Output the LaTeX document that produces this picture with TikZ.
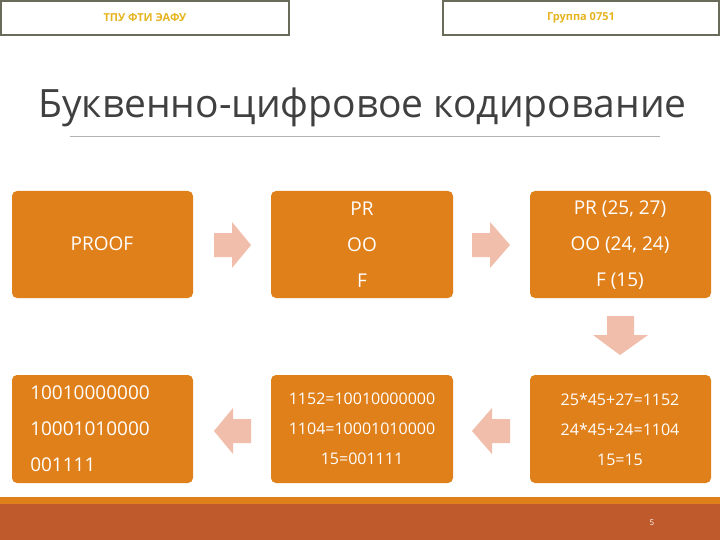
\documentclass[tikz,border=0pt]{standalone}
\usepackage{fontspec}
\setmainfont{Open Sans}
\definecolor{orng}{RGB}{224,128,26}
\definecolor{pinkar}{RGB}{240,190,170}
\definecolor{barc}{RGB}{190,90,44}
\definecolor{hdr}{RGB}{230,180,30}
\definecolor{frm}{RGB}{107,107,91}
\begin{document}
\begin{tikzpicture}[x=1pt,y=-1pt,
 box/.style={fill=orng,rounded corners=5pt,draw=none},
 txt/.style={text=white,font=\fontsize{19}{36}\selectfont,align=center},
 txts/.style={text=white,font=\fontsize{16}{30}\selectfont,align=center},
 ar/.style={fill=pinkar,draw=none},
 hbox/.style={draw=frm,line width=1.5pt,fill=white}]
\useasboundingbox (0,0) rectangle (720,540);
\fill[white] (0,0) rectangle (720,540);
\draw[hbox] (1,1) rectangle (289,35);
\node[text=hdr,font=\bfseries\fontsize{11}{13}\selectfont] (h1) at (145,18) {ТПУ ФТИ ЭАФУ};
\draw[hbox] (443,1) rectangle (719,35);
\node[text=hdr,font=\bfseries\fontsize{11}{13}\selectfont] (h2) at (581,18) {Группа 0751};
\node[anchor=west,inner sep=0pt,text=black!75,font=\fontsize{39}{44}\selectfont] (title) at (38,107) {Буквенно-цифровое кодирование};
\draw[gray!60,line width=0.6pt] (70,136) -- (660,136);
\fill[box] (12,191) rectangle (193,298);
\fill[box] (271,191) rectangle (453,298);
\fill[box] (530,191) rectangle (711,298);
\fill[box] (12,375) rectangle (193,483);
\fill[box] (271,375) rectangle (453,483);
\fill[box] (530,375) rectangle (711,483);
\node[txt] (t1) at (102,244) {PROOF};
\node[txt] (t2) at (362,245) {PR\\OO\\F};
\node[txt] (t3) at (620,245) {PR (25, 27)\\OO (24, 24)\\F (15)};
\node[txts] (t6) at (620,429) {25*45+27=1152\\24*45+24=1104\\15=15};
\node[txts] (t5) at (362,429) {1152=10010000000\\1104=10001010000\\15=001111};
\node[txt,align=left] (t4) at (90,429) {10010000000\\10001010000\\001111};
% arrows
\fill[ar] (214,233) -- (232,233) -- (232,222) -- (251,245) -- (232,268) -- (232,257) -- (214,257) -- cycle;
\fill[ar] (472,233) -- (490,233) -- (490,222) -- (510,245) -- (490,268) -- (490,257) -- (472,257) -- cycle;
\fill[ar] (607,316) -- (634,316) -- (634,335) -- (648,335) -- (620,355) -- (593,335) -- (607,335) -- cycle;
\fill[ar] (510,419) -- (492,419) -- (492,408) -- (472,431) -- (492,454) -- (492,443) -- (510,443) -- cycle;
\fill[ar] (251,419) -- (233,419) -- (233,408) -- (214,431) -- (233,454) -- (233,443) -- (251,443) -- cycle;
\fill[orng] (0,497) rectangle (720,504);
\fill[barc] (0,504) rectangle (720,540);
\node[text=white,font=\fontsize{8}{9}\selectfont] (pg) at (652,523) {5};
\end{tikzpicture}
\end{document}
